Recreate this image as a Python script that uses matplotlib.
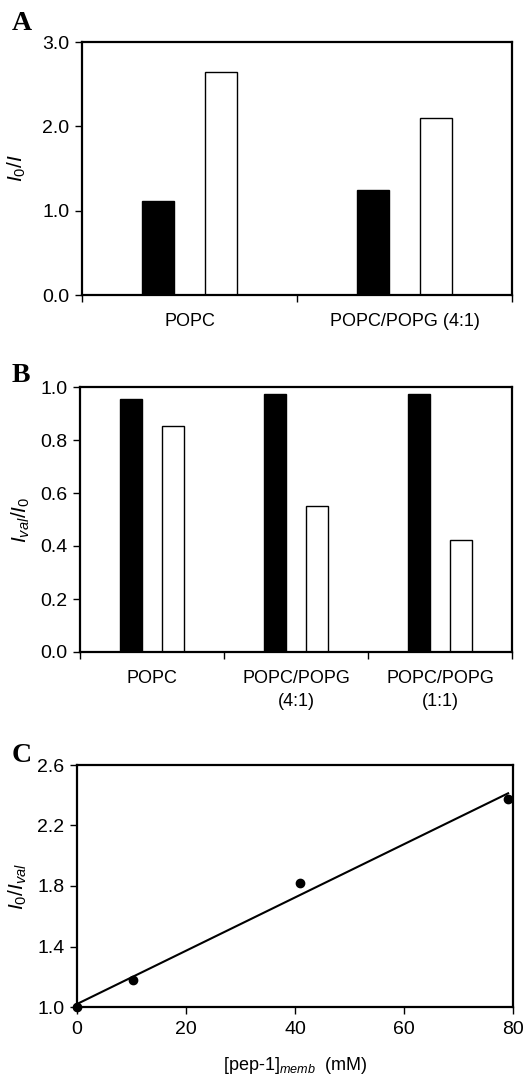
import numpy as np
import matplotlib
matplotlib.use("Agg")
import matplotlib.pyplot as plt

plt.rcParams['font.family'] = 'Liberation Sans'
plt.rcParams['mathtext.fontset'] = 'custom'
plt.rcParams['mathtext.rm'] = 'Liberation Sans'
plt.rcParams['mathtext.it'] = 'Liberation Sans:italic'

# panel A
a_groups = ["POPC", "POPC/POPG (4:1)"]
a_black = [1.12, 1.245]
a_white = [2.65, 2.095]

# panel B
b_groups = ["POPC", "POPC/POPG\n(4:1)", "POPC/POPG\n(1:1)"]
b_black = [0.955, 0.972, 0.972]
b_white = [0.852, 0.552, 0.421]

# panel C
c_x = [0, 10.2, 40.9, 79.1]
c_y = [1.0, 1.176, 1.823, 2.373]

W, H = 525, 1074
fig = plt.figure(figsize=(W / 100, H / 100), dpi=100)


def px_axes(l, t, r, b):
    return fig.add_axes([l / W, 1 - b / H, (r - l) / W, (b - t) / H])


def style(ax):
    for s in ax.spines.values():
        s.set_linewidth(1.6)
    ax.tick_params(axis='y', direction='out', length=5, width=1, labelsize=14, pad=4)
    ax.tick_params(axis='x', direction='out', length=5, width=1, labelsize=13, pad=9)


def bar_panel(ax, groups, black, white, ylim, yticks):
    x = np.arange(len(groups))
    w = 0.15
    ax.bar(x - 0.145, black, w, color='black', edgecolor='black', linewidth=1)
    ax.bar(x + 0.145, white, w, color='white', edgecolor='black', linewidth=1)
    ax.set_xlim(-0.5, len(groups) - 0.5)
    ax.set_ylim(*ylim)
    ax.set_yticks(yticks)
    ax.set_yticklabels([f"{v:.1f}" for v in yticks])
    # boundary ticks between categories, labels centred
    ax.set_xticks(np.arange(len(groups) + 1) - 0.5)
    ax.set_xticklabels([])
    ax.set_xticks(x, minor=True)
    ax.set_xticklabels(groups, minor=True, linespacing=1.45)
    style(ax)
    ax.tick_params(axis='x', which='minor', length=0, labelsize=13, pad=13)


axA = px_axes(82, 42, 512, 295)
bar_panel(axA, a_groups, a_black, a_white, (0, 3.0), [0, 1, 2, 3])
axA.set_ylabel(r'$I_0/I$', fontsize=15, labelpad=10)

axB = px_axes(80, 387, 512, 652)
bar_panel(axB, b_groups, b_black, b_white, (0, 1.0), [0, 0.2, 0.4, 0.6, 0.8, 1.0])
axB.set_ylabel(r'$I_{val}/I_0$', fontsize=15, labelpad=6)

axC = px_axes(77, 765, 513, 1007)
slope, icpt = np.polyfit(c_x, c_y, 1)
xs = np.array([0, c_x[-1]])
axC.plot(xs, slope * xs + icpt, color='black', linewidth=1.5, clip_on=False)
axC.plot(c_x, c_y, 'o', color='black', markersize=6, clip_on=False, zorder=5)
axC.set_xlim(0, 80)
axC.set_ylim(1.0, 2.6)
axC.set_xticks([0, 20, 40, 60, 80])
axC.set_yticks([1.0, 1.4, 1.8, 2.2, 2.6])
axC.set_yticklabels(["1.0", "1.4", "1.8", "2.2", "2.6"])
style(axC)
axC.tick_params(axis='x', pad=5, labelsize=14)
axC.set_ylabel(r'$I_0/I_{val}$', fontsize=15, labelpad=6)
axC.set_xlabel(r'[pep-1]$_{memb}$  (mM)', fontsize=13, labelpad=12)

for letter, base in [("A", 30), ("B", 382), ("C", 762)]:
    fig.text(12 / W, 1 - base / H, letter, fontsize=20, fontweight='bold',
             family='Liberation Serif', va='baseline', ha='left')

fig.savefig("out.png", dpi=100)
